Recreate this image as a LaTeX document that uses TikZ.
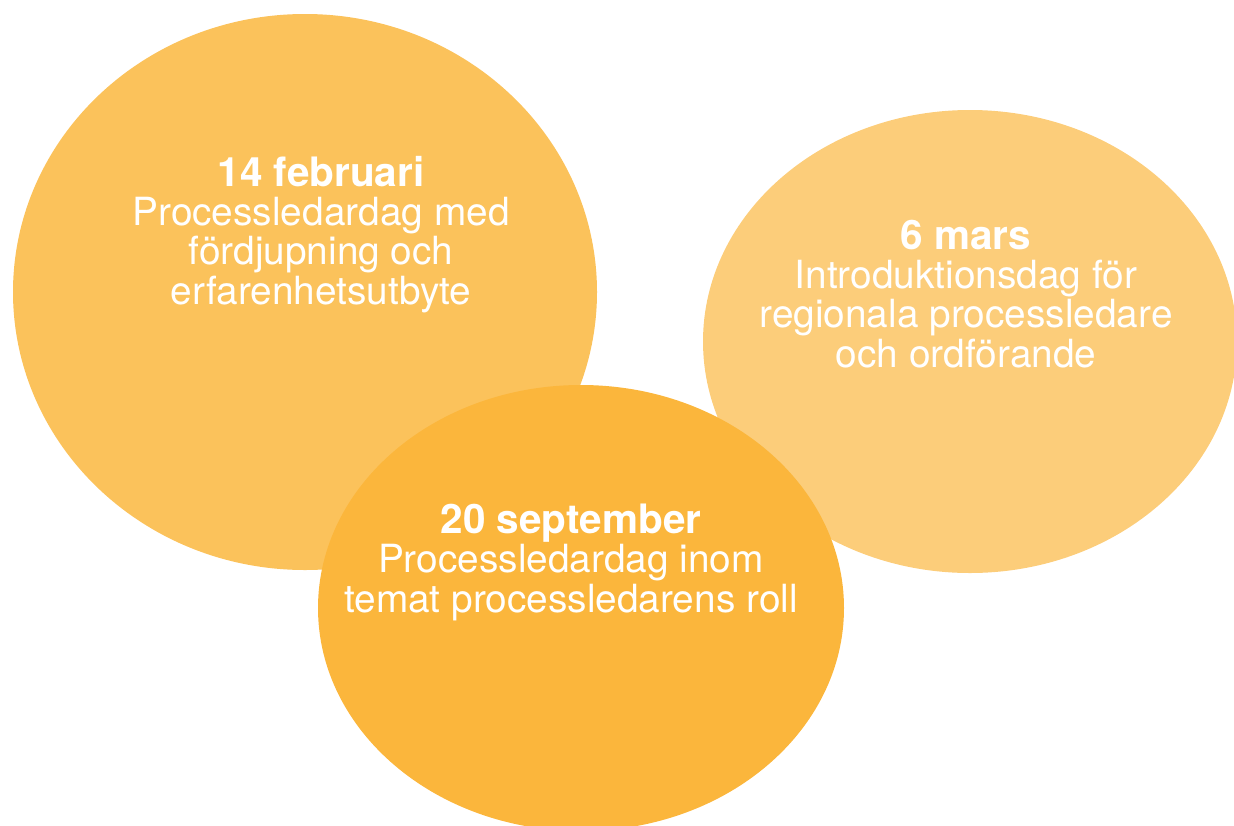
\documentclass[tikz,border=0pt]{standalone}
\usepackage{fontspec}
\setmainfont{TeX Gyre Heros}
\usetikzlibrary{shapes.geometric}
\definecolor{cleft}{RGB}{251,194,91}
\definecolor{cright}{RGB}{252,205,122}
\definecolor{cbottom}{RGB}{251,182,60}
\newcommand{\ttl}[1]{{\fontsize{40.5pt}{39.3pt}\selectfont\bfseries #1}}
\begin{document}
\begin{tikzpicture}[x=1pt,y=-1pt,
  blob/.style={ellipse, inner sep=0pt, draw=none},
  label/.style={text=white, align=center, inner sep=0pt, anchor=base,
    font=\fontsize{38.8pt}{39.3pt}\selectfont}]
\useasboundingbox (0,0) rectangle (1234,825);
\clip (0,0) rectangle (1234,825);
\node[blob, fill=cleft, minimum width=584pt, minimum height=556pt] (e1) at (305,292) {};
\node[blob, fill=cright, minimum width=534pt, minimum height=463pt] (e2) at (970,341.5) {};
\node[blob, fill=cbottom, minimum width=526pt, minimum height=446pt] (e3) at (581,608) {};
\node[label] (t1) at (321,304) {\ttl{14 februari}\\Processledardag med\\fördjupning och\\erfarenhetsutbyte};
\node[label] (t2) at (966,367) {\ttl{6 mars}\\Introduktionsdag för\\regionala processledare\\och ordförande};
\node[label] (t3) at (571,612) {\ttl{20 september}\\Processledardag inom\\temat processledarens roll};
\end{tikzpicture}
\end{document}
